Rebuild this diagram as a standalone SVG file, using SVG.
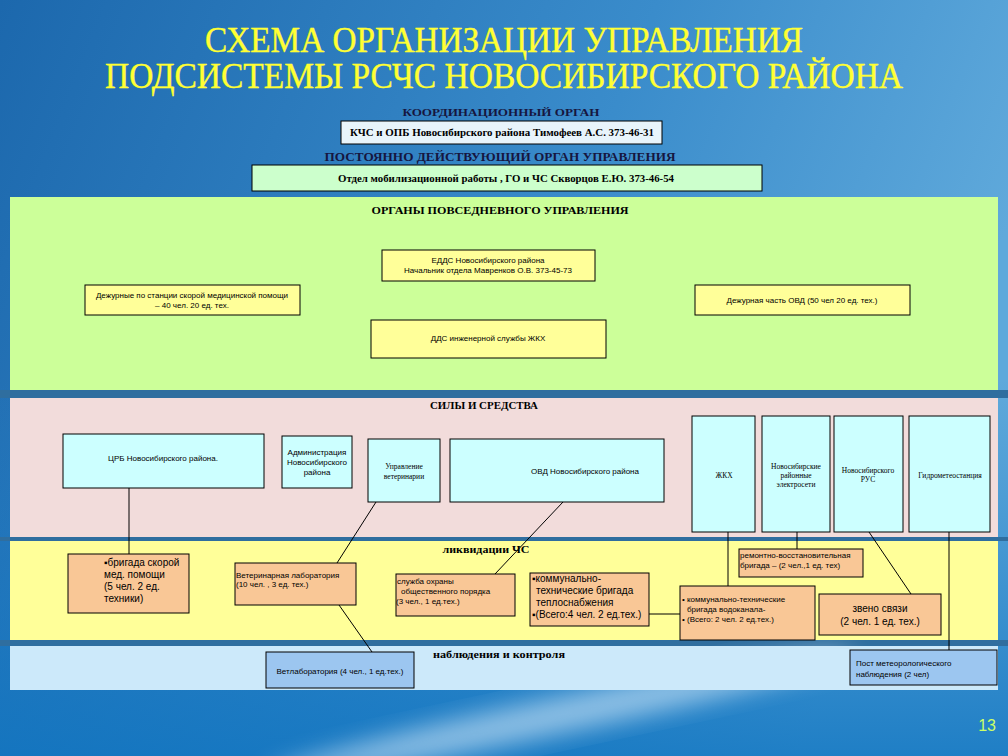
<svg xmlns="http://www.w3.org/2000/svg" width="1008" height="756" viewBox="0 0 1008 756">
<defs>
<linearGradient id="bg" x1="0" y1="0" x2="1" y2="0.3">
<stop offset="0" stop-color="#1c68ad"/>
<stop offset="0.6" stop-color="#3a8ccb"/>
<stop offset="1" stop-color="#5fa9db"/>
</linearGradient>
<linearGradient id="bgb" x1="0" y1="0" x2="0" y2="1">
<stop offset="0" stop-color="#1f7bc4" stop-opacity="0"/>
<stop offset="1" stop-color="#0f74c0" stop-opacity="0.8"/>
</linearGradient>
<filter id="blur" x="-50%" y="-50%" width="200%" height="200%"><feGaussianBlur stdDeviation="12"/></filter>
<style>
.box{stroke:#000;stroke-width:1}
.y{fill:#ffff99}
.c{fill:#ccffff}
.o{fill:#f9c796}
.b{fill:#9cc6f0}
.hd{font-family:"Liberation Serif","Times New Roman",serif;font-weight:bold;text-anchor:middle}
.tt{font-family:"Liberation Serif","Times New Roman",serif;font-size:35px;fill:#ffff33;stroke:#ffff33;stroke-width:0.4;text-anchor:middle}
.s8{font-family:"Liberation Sans",Arial,sans-serif;font-size:8px;fill:#000}
.s10{font-family:"Liberation Sans",Arial,sans-serif;font-size:10px;fill:#000}
.sr{font-family:"Liberation Serif","Times New Roman",serif;font-size:7.5px;fill:#000}
.m{text-anchor:middle}
.ln{stroke:#000;stroke-width:1;fill:none}
</style>
</defs>
<rect width="1008" height="756" fill="url(#bg)"/>
<rect y="380" width="1008" height="376" fill="url(#bgb)"/>
<rect x="0" y="390" width="1008" height="8" fill="#2f6e9f"/>
<rect x="0" y="537" width="1008" height="4" fill="#2f6e9f"/>
<rect x="0" y="640" width="1008" height="6" fill="#2f6e9f"/>
<ellipse cx="560" cy="715" rx="300" ry="18" fill="#e8f6ff" opacity="0.55" filter="url(#blur)" transform="rotate(-12 560 715)"/>

<g id="title">
<text x="504" y="52" class="tt" textLength="598" lengthAdjust="spacingAndGlyphs">СХЕМА ОРГАНИЗАЦИИ УПРАВЛЕНИЯ</text>
<text x="504" y="88" class="tt" textLength="798" lengthAdjust="spacingAndGlyphs">ПОДСИСТЕМЫ РСЧС НОВОСИБИРСКОГО РАЙОНА</text>
</g>

<g id="headers">
<text x="501" y="116" class="hd" font-size="11" fill="#16163f" textLength="197" lengthAdjust="spacingAndGlyphs">КООРДИНАЦИОННЫЙ ОРГАН</text>
<text x="500" y="161" class="hd" font-size="12" fill="#16163f" textLength="351" lengthAdjust="spacingAndGlyphs">ПОСТОЯННО ДЕЙСТВУЮЩИЙ ОРГАН УПРАВЛЕНИЯ</text>
</g>

<g id="kchs">
<rect x="341" y="121" width="321" height="23" class="box" fill="#e8f4fb"/>
<text x="502" y="136" class="hd" font-size="10" fill="#000" textLength="304" lengthAdjust="spacingAndGlyphs">КЧС и ОПБ Новосибирского района Тимофеев А.С. 373-46-31</text>
</g>

<g id="otdel">
<rect x="252" y="165" width="510" height="26" class="box" fill="#ccffcc"/>
<text x="506" y="182" class="hd" font-size="10" fill="#000" textLength="336" lengthAdjust="spacingAndGlyphs">Отдел мобилизационной работы , ГО и ЧС Скворцов Е.Ю. 373-46-54</text>
</g>

<g id="panels">
<rect x="10" y="197" width="988" height="193" fill="#ccff99"/>
<rect x="10" y="398" width="988" height="139" fill="#f2dcdb"/>
<rect x="10" y="541" width="988" height="99" fill="#ffff99"/>
<rect x="10" y="646" width="988" height="44" fill="#cce9fa"/>
<text x="500" y="214" class="hd" font-size="11" fill="#000" textLength="257" lengthAdjust="spacingAndGlyphs">ОРГАНЫ ПОВСЕДНЕВНОГО УПРАВЛЕНИЯ</text>
<text x="484" y="409" class="hd" font-size="10" fill="#000" textLength="108" lengthAdjust="spacingAndGlyphs">СИЛЫ И СРЕДСТВА</text>
<text x="486" y="553" class="hd" font-size="11" fill="#000" textLength="87" lengthAdjust="spacingAndGlyphs">ликвидации ЧС</text>
<text x="499" y="658" class="hd" font-size="11" fill="#000" textLength="132" lengthAdjust="spacingAndGlyphs">наблюдения и контроля</text>
</g>

<g id="connectors">
<line x1="129" y1="488" x2="129" y2="554" class="ln"/>
<line x1="376" y1="502" x2="337" y2="563" class="ln"/>
<line x1="339" y1="605" x2="372" y2="652" class="ln"/>
<line x1="563" y1="502" x2="495" y2="574" class="ln"/>
<line x1="728" y1="532" x2="728" y2="586" class="ln"/>
<line x1="797" y1="532" x2="797" y2="549" class="ln"/>
<line x1="869" y1="532" x2="911" y2="594" class="ln"/>
<line x1="949" y1="532" x2="949" y2="650" class="ln"/>
<line x1="649" y1="614" x2="680" y2="614" class="ln"/>
</g>

<g id="edds">
<rect x="382" y="250" width="213" height="31" class="box y"/>
<text x="488" y="263" class="s8 m" font-size="7.5">ЕДДС Новосибирского района</text>
<text x="488" y="273" class="s8 m" font-size="7.5">Начальник отдела Мавренков О.В. 373-45-73</text>
</g>
<g id="dezhurnye-smp">
<rect x="85" y="285" width="215" height="30" class="box y"/>
<text x="192" y="298" class="s8 m" font-size="7.5">Дежурные по станции скорой медицинской помощи</text>
<text x="192" y="308" class="s8 m" font-size="7.5">– 40 чел. 20 ед. тех.</text>
</g>
<g id="dds-zhkh">
<rect x="371" y="320" width="235" height="38" class="box y"/>
<text x="488" y="341" class="s8 m" font-size="7.5">ДДС инженерной службы ЖКХ</text>
</g>
<g id="dch-ovd">
<rect x="695" y="285" width="215" height="30" class="box y"/>
<text x="802" y="303" class="s8 m" font-size="7.5">Дежурная часть ОВД (50 чел 20 ед. тех.)</text>
</g>

<g id="crb">
<rect x="63" y="434" width="201" height="54" class="box c"/>
<text x="163" y="461" class="s8 m" font-size="7.5">ЦРБ Новосибирского района.</text>
</g>
<g id="admin">
<rect x="282" y="436" width="70" height="52" class="box c"/>
<text x="317" y="455" class="s8 m" font-size="7.5">Администрация</text>
<text x="317" y="465" class="s8 m" font-size="7.5">Новосибирского</text>
<text x="317" y="475" class="s8 m" font-size="7.5">района</text>
</g>
<g id="vet">
<rect x="368" y="439" width="72" height="63" class="box c"/>
<text x="404" y="469" class="sr m">Управление</text>
<text x="404" y="479" class="sr m">ветеринарии</text>
</g>
<g id="ovd">
<rect x="450" y="439" width="214" height="63" class="box c"/>
<text x="585" y="474" class="s8 m" font-size="7.5">ОВД Новосибирского района</text>
</g>
<g id="zhkh">
<rect x="692" y="416" width="63" height="116" class="box c"/>
<text x="724" y="478" class="sr m">ЖКХ</text>
</g>
<g id="elektroseti">
<rect x="762" y="416" width="68" height="116" class="box c"/>
<text x="796" y="469" class="sr m">Новосибирские</text>
<text x="796" y="478" class="sr m">районные</text>
<text x="796" y="487" class="sr m">электросети</text>
</g>
<g id="rus">
<rect x="834" y="416" width="69" height="116" class="box c"/>
<text x="868" y="473" class="sr m">Новосибирского</text>
<text x="868" y="482" class="sr m">РУС</text>
</g>
<g id="gidromet">
<rect x="909" y="416" width="81" height="116" class="box c"/>
<text x="950" y="478" class="sr m">Гидрометеостанция</text>
</g>

<g id="brigada-smp">
<rect x="68" y="554" width="121" height="59" class="box o"/>
<text x="104" y="566" class="s10">▪бригада скорой</text>
<text x="104" y="578" class="s10">мед. помощи</text>
<text x="104" y="590" class="s10">(5 чел. 2 ед.</text>
<text x="104" y="602" class="s10">техники)</text>
</g>
<g id="vetlab">
<rect x="235" y="563" width="121" height="42" class="box o"/>
<text x="236" y="578" class="s8">Ветеринарная лаборатория</text>
<text x="236" y="587" class="s8">(10 чел. , 3 ед. тех.)</text>
</g>
<g id="ohrana">
<rect x="396" y="574" width="119" height="42" class="box o"/>
<text x="397" y="584" class="s8">служба охраны</text>
<text x="401" y="594" class="s8">общественного порядка</text>
<text x="396" y="604" class="s8">(3 чел., 1 ед.тех.)</text>
</g>
<g id="teplo">
<rect x="530" y="573" width="119" height="53" class="box o"/>
<text x="532" y="582" class="s10">▪коммунально-</text>
<text x="536" y="594" class="s10">технические бригада</text>
<text x="536" y="606" class="s10">теплоснабжения</text>
<text x="532" y="618" class="s10">▪(Всего:4 чел. 2 ед.тех.)</text>
</g>
<g id="vodokanal">
<rect x="680" y="586" width="135" height="54" class="box o"/>
<text x="682" y="602" class="s8">• коммунально-технические</text>
<text x="687" y="612" class="s8">бригада водоканала-</text>
<text x="682" y="622" class="s8">• (Всего: 2 чел. 2 ед.тех.)</text>
</g>
<g id="remont">
<rect x="739" y="549" width="124" height="28" class="box o"/>
<text x="740" y="558" class="s8">ремонтно-восстановительная</text>
<text x="740" y="568" class="s8">бригада –  (2 чел.,1 ед. тех)</text>
</g>
<g id="zveno">
<rect x="819" y="594" width="122" height="41" class="box o"/>
<text x="880" y="612" class="s10 m">звено связи</text>
<text x="880" y="625" class="s10 m">(2 чел. 1 ед. тех.)</text>
</g>

<g id="vetlaboratoriya">
<rect x="266" y="652" width="148" height="36" class="box b"/>
<text x="340" y="674" class="s8 m">Ветлаборатория (4 чел., 1 ед.тех.)</text>
</g>
<g id="post">
<rect x="850" y="650" width="147" height="35" class="box b"/>
<text x="856" y="666" class="s8">Пост метеорологического</text>
<text x="856" y="677" class="s8">наблюдения (2 чел)</text>
</g>

<text x="996" y="731" font-family="'Liberation Sans',Arial,sans-serif" font-size="16" fill="#ccff66" text-anchor="end">13</text>
</svg>
